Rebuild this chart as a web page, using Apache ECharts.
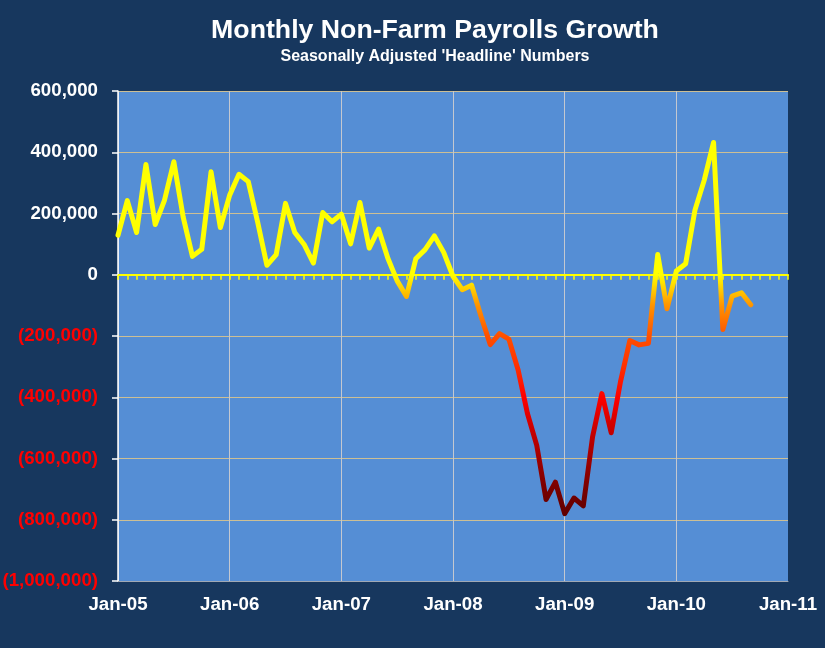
<!DOCTYPE html>
<html>
<head>
<meta charset="utf-8">
<script src="https://cdn.jsdelivr.net/npm/echarts@6/dist/echarts.min.js"></script>
<style>
html,body{margin:0;padding:0;background:#17375e;}
#chart{width:825px;height:648px;}
</style>
</head>
<body>
<div id="chart"></div>
<script>
// Monthly change in non-farm payrolls, Jan-05 .. Sep-10
const startYear = 2005;
const values2005 = [129000, 242000, 138000, 360000, 164000, 244000, 369000, 189000, 60000, 83000, 336000, 154000];
const values2006 = [260000, 328000, 304000, 173000, 31000, 66000, 233000, 138000, 99000, 38000, 203000, 173000];
const values2007 = [198000, 101000, 236000, 87000, 149000, 54000, -20000, -71000, 52000, 82000, 127000, 73000];
const values2008 = [-5000, -49000, -34000, -135000, -228000, -192000, -210000, -311000, -453000, -557000, -734000, -677000];
const values2009 = [-780000, -729000, -755000, -529000, -388000, -516000, -349000, -215000, -229000, -224000, 66000, -111000];
const values2010 = [12000, 36000, 211000, 309000, 432000, -179000, -70000, -59000, -98000];
const xTickLabels = ['Jan-05', 'Jan-06', 'Jan-07', 'Jan-08', 'Jan-09', 'Jan-10', 'Jan-11'];
const yTicks = { min: -1000000, max: 600000, step: 200000 };

const allValues = [].concat(values2005, values2006, values2007, values2008, values2009, values2010);
const seriesData = allValues.map((v, i) => [i, v]); // x = months since Jan-05

function fmtNum(v) {
  const s = Math.abs(v).toString().replace(/\B(?=(\d{3})+(?!\d))/g, ',');
  return v < 0 ? '(' + s + ')' : s;
}

const FONT = '"Liberation Sans", Arial, sans-serif';
const chart = echarts.init(document.getElementById('chart'));
chart.setOption({
  backgroundColor: '#17375e',
  textStyle: { fontFamily: FONT },
  title: [
    { text: 'Monthly Non-Farm Payrolls Growth', left: 430, top: 12, textAlign: 'center',
      textStyle: { color: '#ffffff', fontSize: 26.7, fontWeight: 'bold', fontFamily: FONT } },
    { text: "Seasonally Adjusted 'Headline' Numbers", left: 430, top: 44, textAlign: 'center',
      textStyle: { color: '#ffffff', fontSize: 16, fontWeight: 'bold', fontFamily: FONT } }
  ],
  grid: { left: 118, right: 37, top: 91, bottom: 67, show: true, backgroundColor: '#558ed5', borderWidth: 0,
          containLabel: false, outerBoundsMode: 'none' },
  visualMap: {
    show: false, type: 'continuous', seriesIndex: 0, dimension: 1,
    min: -1000000, max: 600000,
    inRange: { color: ['#400000', '#4c0000', '#5c0000', '#780000', '#a00000', '#cc0000', '#ff0000', '#ff3000', '#ff5000', '#ff9400',
                       '#ffff00', '#ffff00', '#ffff00', '#ffff00', '#ffff00', '#ffff00', '#ffff00'] }
  },
  xAxis: [
    {
      type: 'value', min: 0, max: (xTickLabels.length - 1) * 12, interval: 12,
      position: 'bottom',
      axisLine: { onZero: false, show: true, lineStyle: { color: '#a0a8b4', width: 1 } },
      axisTick: { show: false },
      splitLine: { show: true, showMaxLine: false, lineStyle: { color: '#c4c8d0', width: 1 } },
      axisLabel: { color: '#ffffff', fontSize: 18.7, fontWeight: 'bold', margin: 14,
        formatter: (v) => xTickLabels[Math.round(v / 12)] || '' }
    },
    {
      type: 'value', min: 0, max: (xTickLabels.length - 1) * 12, interval: 1,
      position: 'bottom',
      axisLine: { onZero: true, show: true, lineStyle: { color: '#ffff00', width: 2 } },
      axisTick: { show: true, length: 5, lineStyle: { color: '#ffff00', width: 1.5 } },
      splitLine: { show: false },
      axisLabel: { show: false }
    }
  ],
  yAxis: {
    type: 'value', min: yTicks.min, max: yTicks.max, interval: yTicks.step,
    axisLine: { show: true, lineStyle: { color: '#ffffff', width: 1.5 } },
    axisTick: { show: true, length: 6, lineStyle: { color: '#ffffff', width: 1.5 } },
    splitLine: { show: true, lineStyle: { color: '#cdbf94', width: 1 } },
    axisLabel: { fontSize: 18.7, fontWeight: 'bold', margin: 20,
      color: (v) => (Number(v) < 0 ? '#ff0000' : '#ffffff'),
      formatter: (v) => fmtNum(v) }
  },
  series: [{
    type: 'line', xAxisIndex: 0, data: seriesData, symbol: 'none', smooth: false,
    lineStyle: { width: 5, join: 'round', cap: 'round' }, z: 3
  }]
});
</script>
</body>
</html>
